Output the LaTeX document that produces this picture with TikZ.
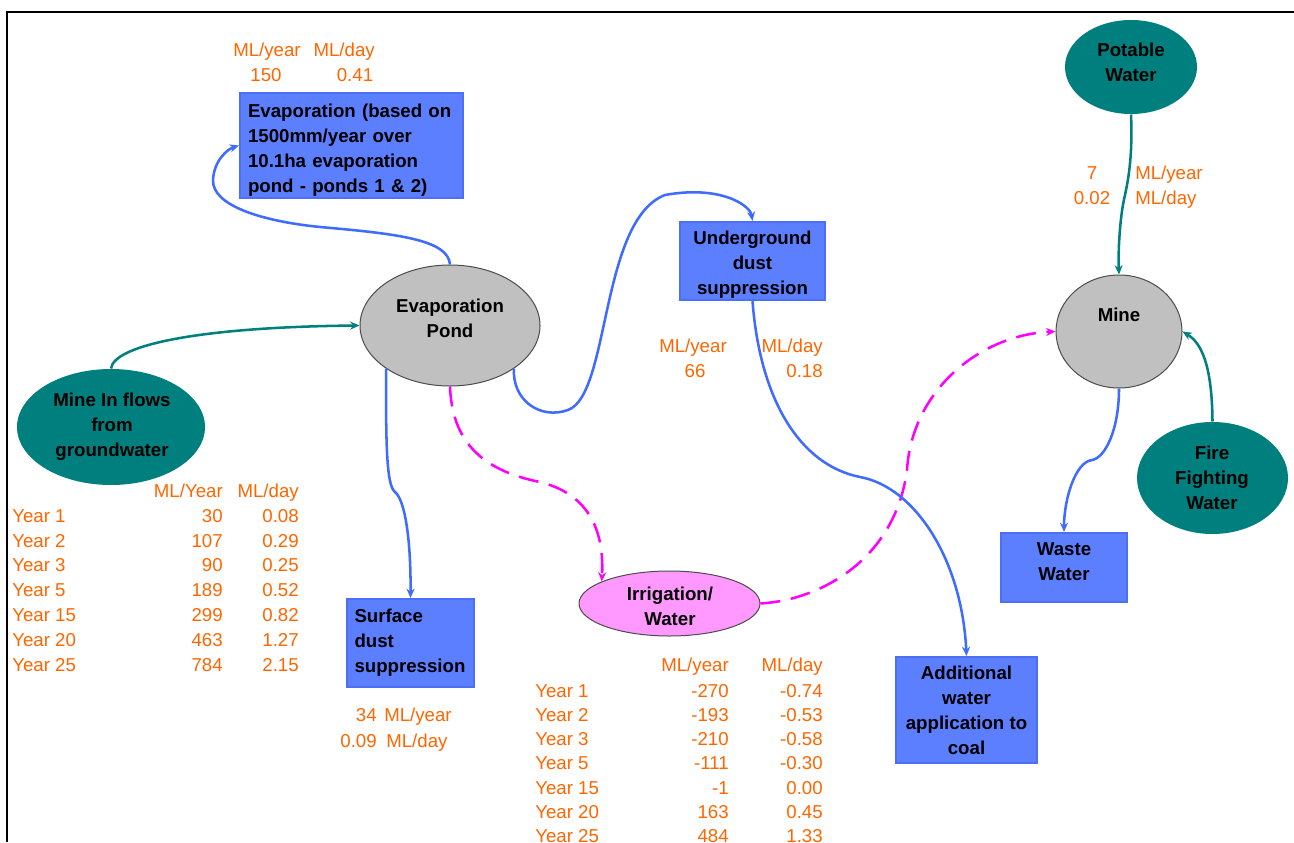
\documentclass[tikz,border=0pt]{standalone}
\usepackage{fontspec}
\setmainfont{Liberation Sans}
\usetikzlibrary{shapes.geometric,arrows.meta}
\definecolor{boxblue}{HTML}{5B7FFF}
\definecolor{boxedge}{HTML}{4C70F5}
\definecolor{lineblue}{HTML}{3F6BFF}
\definecolor{tealc}{HTML}{007F7F}
\definecolor{grayc}{HTML}{C0C0C0}
\definecolor{pinkc}{HTML}{FF99FF}
\definecolor{magc}{HTML}{FF00FF}
\definecolor{orangec}{HTML}{FF6600}
\begin{document}
\begin{tikzpicture}[x=0.75pt,y=-0.75pt,
  lbl/.style={font=\fontsize{14}{18.75}\selectfont\bfseries, text=black, inner sep=0pt},
  otxt/.style={font=\fontsize{14}{18.75}\selectfont, text=orangec, inner sep=0pt, yshift=-2.8pt},
  bluebox/.style={draw=boxedge, fill=boxblue, line width=1.5pt, inner sep=0pt},
  ell/.style={ellipse, inner sep=0pt, line width=0.75pt},
  grayell/.style={ell, fill=grayc, draw=black!70},
  tealell/.style={ell, fill=tealc},
  pinkell/.style={ell, fill=pinkc, draw=black!70},
  flow/.style={line width=1.9pt, -{Stealth[length=7pt,width=6pt]}},
  blueflow/.style={flow, draw=lineblue},
  tealflow/.style={flow, draw=tealc},
  pinkflow/.style={flow, draw=magc, dash pattern=on 15pt off 8pt},
]
\useasboundingbox (0,0) rectangle (1294,842);
\fill[white] (0,0) rectangle (1294,842);
% frame
\coordinate (fa) at (1294,12);
\coordinate (fb) at (7,12);
\coordinate (fc) at (7,842);
\draw[line width=1.5pt] (fa) -- (fb) -- (fc);

% boxes
\node[bluebox, minimum width=167.25pt, minimum height=78.75pt] (evap) at (351.5,145.5) {};
\node[lbl, text width=155.25pt, align=left] (evapt) at (351.5,150)
  {Evaporation (based on\\1500mm/year over\\10.1ha evaporation\\pond - ponds 1 \& 2)};
\node[bluebox, minimum width=95.25pt, minimum height=66pt] (surf) at (410.5,643) {};
\node[lbl, text width=84pt, align=left] (surft) at (410.5,643)
  {Surface\\dust\\suppression};
\node[bluebox, minimum width=108.75pt, minimum height=58.5pt] (under) at (752.5,261) {};
\node[lbl, align=center] (undert) at (752.5,265)
  {Underground\\dust\\suppression};
\node[bluebox, minimum width=105.75pt, minimum height=79.5pt] (add) at (966.5,710) {};
\node[lbl, align=center] (addt) at (966.5,710)
  {Additional\\water\\application to\\coal};
\node[bluebox, minimum width=94.5pt, minimum height=51.75pt] (waste) at (1064,567.5) {};
\node[lbl, align=center] (wastet) at (1064,562) {Waste\\Water};

% ellipses
\node[grayell, minimum width=135pt, minimum height=90.75pt] (pond) at (450,325.5) {};
\node[lbl, align=center] (pondt) at (450,318) {Evaporation\\Pond};
\node[tealell, minimum width=141pt, minimum height=87pt] (inflow) at (111,427) {};
\node[lbl, align=center] (inflowt) at (112,427) {Mine In flows\\from\\groundwater};
\node[pinkell, minimum width=135.75pt, minimum height=48.75pt] (irr) at (669.5,603.5) {};
\node[lbl, align=center] (irrt) at (670,606) {Irrigation/\\Water};
\node[tealell, minimum width=99pt, minimum height=70.5pt] (pot) at (1131,67) {};
\node[lbl, align=center] (pott) at (1131,62) {Potable\\Water};
\node[grayell, minimum width=94.5pt, minimum height=84.75pt] (mine) at (1119,331.5) {};
\node[lbl] (minet) at (1119,315) {Mine};
\node[tealell, minimum width=113.25pt, minimum height=84pt] (fire) at (1212.5,478) {};
\node[lbl, align=center] (firet) at (1212,478) {Fire\\Fighting\\Water};

% connectors
\draw[blueflow] (pond.north) .. controls (448,240) and (400,234) .. (320,227)
  .. controls (260,221) and (212,205) .. (213,180)
  .. controls (214,160) and (228,149) .. (evap.west);
\draw[tealflow] (inflow.north) .. controls (114,345) and (200,327) .. (pond.west);
\draw[blueflow] (pond.214) .. controls (386,440) and (386,485) .. (395,492)
  .. controls (405,500) and (411,540) .. (surf.north);
\draw[blueflow] (pond.326) .. controls (512,400) and (540,420) .. (568,410)
  .. controls (610,395) and (600,220) .. (665,195)
  .. controls (720,185) and (750,205) .. (under.north);
\draw[pinkflow] (pond.south) .. controls (452,440) and (480,470) .. (540,482)
  .. controls (580,492) and (605,520) .. (irr.162);
\draw[pinkflow] (irr.east) .. controls (820,600) and (895,560) .. (907,470)
  .. controls (912,390) and (980,335) .. (mine.west);
\draw[blueflow] (under.south) .. controls (760,400) and (800,465) .. (860,477)
  .. controls (915,487) and (962,560) .. (add.north);
\draw[tealflow] (pot.south) .. controls (1133,160) and (1127,185) .. (1125,195)
  .. controls (1120,215) and (1118,250) .. (mine.north);
\draw[tealflow] (fire.north) .. controls (1212,375) and (1205,345) .. (mine.east);
\draw[blueflow] (mine.south) .. controls (1119,430) and (1105,458) .. (1092,460)
  .. controls (1075,462) and (1064,500) .. (waste.north);

% orange labels
\node[otxt, anchor=mid] (e1) at (267,49) {ML/year};
\node[otxt, anchor=mid east] (e2) at (375,49) {ML/day};
\node[otxt, anchor=mid] (e3) at (266,74) {150};
\node[otxt, anchor=mid] (e4) at (355,74) {0.41};

\node[otxt, anchor=mid] (u1) at (693,345) {ML/year};
\node[otxt, anchor=mid] (u2) at (695,370) {66};
\node[otxt, anchor=mid east] (u3) at (823,345) {ML/day};
\node[otxt, anchor=mid east] (u4) at (823,370) {0.18};

\node[otxt, anchor=mid] (p1) at (1092,172) {7};
\node[otxt, anchor=mid] (p2) at (1092,197) {0.02};
\node[otxt, anchor=mid west] (p3) at (1135,172) {ML/year};
\node[otxt, anchor=mid west] (p4) at (1135,197) {ML/day};

\node[otxt, anchor=mid east] (s1) at (377,714) {34};
\node[otxt, anchor=mid east] (s2) at (377,740) {0.09};
\node[otxt, anchor=mid west] (s3) at (384,714) {ML/year};
\node[otxt, anchor=mid west] (s4) at (386,740) {ML/day};

% left table
\node[otxt, anchor=mid east] (lh1) at (223,490) {ML/Year};
\node[otxt, anchor=mid east] (lh2) at (299,490) {ML/day};
\foreach \lab/\va/\vb [count=\i] in {Year 1/30/0.08, Year 2/107/0.29, Year 3/90/0.25, Year 5/189/0.52, Year 15/299/0.82, Year 20/463/1.27, Year 25/784/2.15}{
  \pgfmathsetmacro\yy{515+24.8*(\i-1)}
  \node[otxt, anchor=mid west] (la\i) at (12,\yy) {\lab};
  \node[otxt, anchor=mid east] (lb\i) at (223,\yy) {\va};
  \node[otxt, anchor=mid east] (lc\i) at (299,\yy) {\vb};
}

% bottom table
\node[otxt, anchor=mid east] (bh1) at (729,664) {ML/year};
\node[otxt, anchor=mid east] (bh2) at (823,664) {ML/day};
\foreach \lab/\va/\vb [count=\i] in {Year 1/-270/-0.74, Year 2/-193/-0.53, Year 3/-210/-0.58, Year 5/-111/-0.30, Year 15/-1/0.00, Year 20/163/0.45, Year 25/484/1.33}{
  \pgfmathsetmacro\yy{690+24.2*(\i-1)}
  \node[otxt, anchor=mid west] (ba\i) at (535,\yy) {\lab};
  \node[otxt, anchor=mid east] (bb\i) at (729,\yy) {\va};
  \node[otxt, anchor=mid east] (bc\i) at (823,\yy) {\vb};
}
\end{tikzpicture}
\end{document}
